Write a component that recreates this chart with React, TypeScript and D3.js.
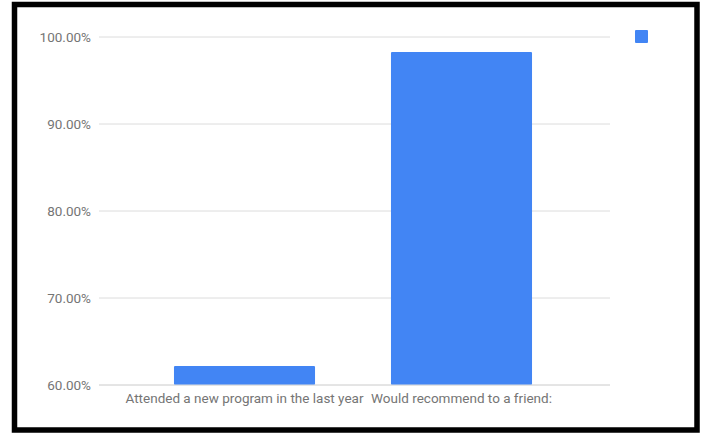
import React from "react";
import * as d3 from "d3";

const categories: string[] = ["Attended a new program in the last year", "Would recommend to a friend:"];
const values: number[] = [0.6218, 0.9828];
const yTicks: number[] = [0.6, 0.7, 0.8, 0.9, 1.0];

const W = 706;
const H = 433;

export default function App() {
  const y = d3.scaleLinear().domain([0.6, 1.0]).range([385, 37]);
  const x = d3.scaleBand<string>().domain(categories).range([136, 570]).paddingInner(0.35).paddingOuter(0.175);
  const fmt = d3.format(".2%");
  const gridX0 = 99;
  const gridX1 = 610;
  return (
    <svg width={W} height={H} style={{ position: "absolute", left: 0, top: 0, display: "block" }}
      fontFamily="Roboto, 'Noto Sans', sans-serif">
      <rect x={0} y={0} width={W} height={H} fill="#fff" />
      <rect x={14.5} y={4.5} width={682.5} height={425.5} fill="#fff" stroke="#000" strokeWidth={5.5} />
      {yTicks.map((t) => (
        <g key={t}>
          <line x1={gridX0} x2={gridX1} y1={y(t)} y2={y(t)} stroke="#dcdcdc" strokeWidth={1} />
          <text x={91} y={y(t)} dy="0.35em" textAnchor="end" fontSize={13.5} fill="#757575">{fmt(t)}</text>
        </g>
      ))}
      {categories.map((c, i) => (
        <rect key={c} x={x(c)} y={y(values[i])} width={x.bandwidth()} height={y(0.6) - y(values[i])}
          fill="#4285f4" rx={1} />
      ))}
      <line x1={gridX0} x2={gridX1} y1={y(0.6)} y2={y(0.6)} stroke="#dcdcdc" strokeWidth={1} />
      {categories.map((c) => (
        <text key={c} x={(x(c) as number) + x.bandwidth() / 2} y={403} textAnchor="middle" fontSize={13.5} fill="#757575">{c}</text>
      ))}
      <rect x={635} y={30} width={13} height={13} fill="#4285f4" rx={1} />
    </svg>
  );
}
